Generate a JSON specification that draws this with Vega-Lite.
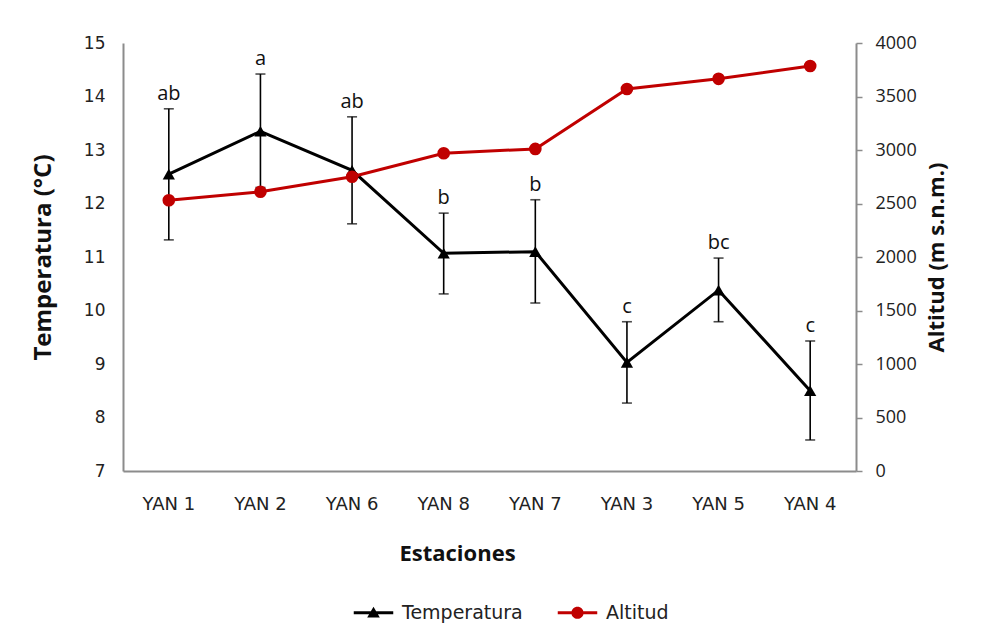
{
  "$schema": "https://vega.github.io/schema/vega-lite/v6.json",
  "width": 733,
  "height": 428,
  "autosize": {"type": "none"},
  "padding": {"left": 123, "top": 43, "right": 146, "bottom": 166},
  "background": "white",
  "config": {"view": {"stroke": null}},
  "data": {
    "values": [
      {"est": "YAN 1", "temp": 12.55, "lo": 11.32, "hi": 13.77, "alt": 2530, "let": "ab"},
      {"est": "YAN 2", "temp": 13.35, "lo": 12.30, "hi": 14.42, "alt": 2610, "let": "a"},
      {"est": "YAN 6", "temp": 12.62, "lo": 11.62, "hi": 13.62, "alt": 2750, "let": "ab"},
      {"est": "YAN 8", "temp": 11.07, "lo": 10.31, "hi": 11.82, "alt": 2970, "let": "b"},
      {"est": "YAN 7", "temp": 11.10, "lo": 10.14, "hi": 12.07, "alt": 3010, "let": "b"},
      {"est": "YAN 3", "temp": 9.03, "lo": 8.27, "hi": 9.79, "alt": 3570, "let": "c"},
      {"est": "YAN 5", "temp": 10.38, "lo": 9.79, "hi": 10.98, "alt": 3665, "let": "bc"},
      {"est": "YAN 4", "temp": 8.50, "lo": 7.58, "hi": 9.43, "alt": 3785, "let": "c"}
    ]
  },
  "encoding": {
    "x": {
      "field": "est", "type": "nominal", "sort": null,
      "scale": {"paddingInner": 0, "paddingOuter": 0},
      "axis": {
        "title": "Estaciones", "labelAngle": 0, "ticks": false,
        "labelPadding": 24, "labelFont": "DejaVu Sans", "labelFontSize": 18, "labelColor": "#222",
        "domainColor": "#8c8c8c", "domainWidth": 2,
        "titleFont": "Open Sans", "titleFontSize": 22, "titleFontWeight": "bold", "titleColor": "#111",
        "titlePadding": 30, "titleX": 334, "titleAnchor": "start", "titleAlign": "center"
      }
    }
  },
  "layer": [
    {
      "encoding": {
        "y": {
          "field": "temp", "type": "quantitative",
          "scale": {"domain": [7, 15], "nice": false, "zero": false},
          "axis": {
            "title": "Temperatura (°C)", "values": [7, 8, 9, 10, 11, 12, 13, 14, 15],
            "ticks": false, "grid": false, "labelPadding": 18,
            "labelFont": "DejaVu Sans", "labelFontSize": 17, "labelColor": "#222",
            "domainColor": "#8c8c8c", "domainWidth": 2,
            "titleFont": "Open Sans", "titleFontSize": 24, "titleFontWeight": "bold", "titleColor": "#111",
            "titlePadding": 28
          }
        }
      },
      "layer": [
        {"mark": {"type": "rule", "color": "black", "strokeWidth": 1.6}, "encoding": {"y": {"field": "lo", "type": "quantitative"}, "y2": {"field": "hi"}}},
        {"mark": {"type": "tick", "color": "black", "thickness": 1.6, "size": 10}, "encoding": {"y": {"field": "lo", "type": "quantitative"}}},
        {"mark": {"type": "tick", "color": "black", "thickness": 1.6, "size": 10}, "encoding": {"y": {"field": "hi", "type": "quantitative"}}},
        {"mark": {"type": "line", "color": "black", "strokeWidth": 3}},
        {"mark": {"type": "point", "shape": "triangle-up", "filled": true, "color": "black", "opacity": 1, "size": 150}},
        {"mark": {"type": "text", "font": "Open Sans", "fontSize": 20, "color": "#111", "baseline": "alphabetic", "dy": -9}, "encoding": {"y": {"field": "hi", "type": "quantitative"}, "text": {"field": "let"}}},
        {
          "transform": [{"filter": "false"}],
          "mark": {"type": "point", "filled": true, "opacity": 1},
          "encoding": {
            "color": {
              "field": "serie", "type": "nominal",
              "scale": {"domain": ["Temperatura", "Altitud"], "range": ["#000000", "#c00000"]},
              "legend": {
                "title": null, "orient": "none", "direction": "horizontal",
                "legendX": 230, "legendY": 549,
                "symbolSize": 1560,
                "labelFont": "DejaVu Sans", "labelFontSize": 19, "labelColor": "#222",
                "labelOffset": 8, "columnPadding": 34,
                "encode": {"symbols": {"update": {
                  "fill": {"scale": "color", "field": "value"},
                  "opacity": {"value": 1},
                  "size": {"value": 1560},
                  "shape": {"scale": "shape", "field": "value"}
                }}}
              }
            },
            "shape": {
              "field": "serie", "type": "nominal",
              "scale": {"domain": ["Temperatura", "Altitud"], "range": [
                "M-1,-0.075H1V0.075H-1ZM0,-0.3L0.32,0.24L-0.32,0.24Z",
                "M-1,-0.075H1V0.075H-1ZM0.31,0A0.31,0.31,0,1,1,-0.31,0A0.31,0.31,0,1,1,0.31,0Z"
              ]},
              "legend": null
            }
          }
        }
      ]
    },
    {
      "encoding": {
        "y": {
          "field": "alt", "type": "quantitative",
          "scale": {"domain": [0, 4000], "nice": false},
          "axis": {
            "orient": "right", "title": "Altitud (m s.n.m.)", "titleAngle": 270, "format": "d",
            "values": [0, 500, 1000, 1500, 2000, 2500, 3000, 3500, 4000],
            "ticks": true, "tickSize": 6, "tickColor": "#8c8c8c", "tickWidth": 1.5, "grid": false,
            "labelPadding": 13, "labelFont": "Open Sans", "labelFontSize": 18, "labelColor": "#222",
            "domainColor": "#8c8c8c", "domainWidth": 2,
            "titleFont": "Open Sans", "titleFontSize": 22, "titleFontWeight": "bold", "titleColor": "#111",
            "titlePadding": 32
          }
        }
      },
      "layer": [
        {"mark": {"type": "line", "color": "#c00000", "strokeWidth": 3}},
        {"mark": {"type": "point", "shape": "circle", "filled": true, "color": "#c00000", "opacity": 1, "size": 160}}
      ]
    }
  ],
  "resolve": {"scale": {"y": "independent"}}
}
